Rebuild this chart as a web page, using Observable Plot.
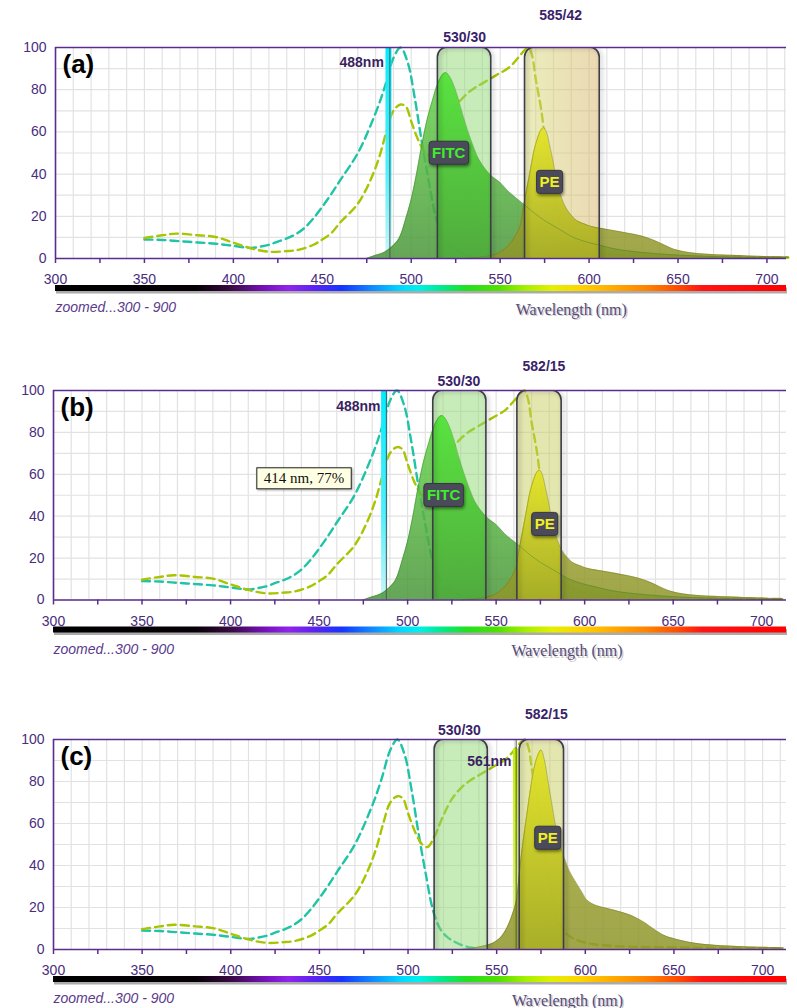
<!DOCTYPE html>
<html><head><meta charset="utf-8">
<script src="https://cdn.jsdelivr.net/npm/d3@7"></script>
<script src="https://cdn.jsdelivr.net/npm/@observablehq/plot@0.6"></script>
<style>
html,body{margin:0;padding:0;background:#fff;}
#chart{width:797px;}
#chart svg{display:block;}
</style></head><body>
<svg width="0" height="0" style="position:absolute">
<defs>
  <linearGradient id="spectrum" gradientUnits="userSpaceOnUse" x1="54" x2="786" y1="0" y2="0"></linearGradient>
  <linearGradient id="fitcGrad" x1="0" x2="0" y1="0" y2="1"><stop offset="0" stop-color="#66d64a"/><stop offset="1" stop-color="#4a963a"/></linearGradient>
  <linearGradient id="fitcBright" x1="0" x2="0" y1="0" y2="1"><stop offset="0" stop-color="#4ee634"/><stop offset="1" stop-color="#46a634"/></linearGradient>
  <linearGradient id="peGrad" x1="0" x2="0" y1="0" y2="1"><stop offset="0" stop-color="#aaac34"/><stop offset="1" stop-color="#8e962a"/></linearGradient>
  <linearGradient id="peBright" x1="0" x2="0" y1="0" y2="1"><stop offset="0" stop-color="#ecec22"/><stop offset="1" stop-color="#a6ac1e"/></linearGradient>
  <linearGradient id="laserCyan" x1="0" x2="0" y1="0" y2="1"><stop offset="0" stop-color="#00ecff"/><stop offset="0.6" stop-color="#50f0fc"/><stop offset="1" stop-color="#cdf6f8"/></linearGradient>
  <linearGradient id="laserYellow" x1="0" x2="0" y1="0" y2="1"><stop offset="0" stop-color="#c4f000"/><stop offset="1" stop-color="#e2f890"/></linearGradient>
  <linearGradient id="tanBand" x1="0" x2="1" y1="0" y2="0"><stop offset="0" stop-color="#d6da78"/><stop offset="1" stop-color="#d8b468"/></linearGradient>
</defs></svg>
<div id="chart"></div>
<script>
// ---------- data ----------
const fitcExWl  = [350,360,370,380,390,400,410,415,420,425,430,435,440,445,450,455,460,470,480,485,490,494,498,502,506,510,514,518,522,526,530,535,540];
const fitcExVal = [9,8.8,8.2,7.6,7,6,5,5.6,6.5,8,9.5,11.5,14.5,19,24.5,30.5,37,50,69,81,95,100,93,76,55,36,19,10,6,3.8,2.2,1,0.3];

const peExWl  = [350,360,368,380,390,400,410,420,430,437,445,450,455,460,470,477,482,486,490,494,497,500,504,508,511,515,520,525,530,535,540,548,555,560,564,566,568,570,573,576,579,582,585,590,597,605,620,650,712];
const peExVal = [9.7,11,11.8,11,10.2,7.5,4.8,3.2,3.5,4.2,6.5,9,12,17,26,37,48,60,70,73,72,65,56,50,48.8,54,64,72,77,80.5,83,87,90.5,95,99,100,96,85,71,51,35,23,13,7,4,2.5,1.5,1,0.5];

const fitcEmWl  = [475,480,485,488,492,494,497,500,503,506,509,512,515,518,519.5,521,523,526,529,532,535,538,542,546,550,555,560,565,570,575,580,585,590,595,600,606,615,625,635,650,670,690,712];
const fitcEmVal = [0,1.5,3,4.7,8,11,19,28,40,54,66,75,83,87.5,88,87,84,77,68,60,53,47,42,38.5,36,31.5,28,24.5,21,18,15.5,13,10.5,8.8,7.5,6.3,4.5,3.3,2.5,1.6,0.9,0.5,0.3];

const peEmWl  = [530,540,545,550,555,558,561,563,565,567,569,571,573,574.5,576,578,580,582,584,587,590,593,597,602,610,618,625,630,636,642,648,655,662,680,700,712];
const peEmVal = [0,0.8,1.5,3,6.5,10,15,24,33,42,51,57,61,62,60,53,45,36,30,24,20.5,18,16.5,15,13.8,12.6,11.5,10.5,8.8,6.5,4.3,3,2.3,1.5,0.9,0.7];

const peEmCWl  = [530,540,547,552,556,559,561,563,565,567,569,571,573,575,577,579,581,583,585,588,591,594,598,601,606,613,620,628,634,639,645,654,663,673,690,712];
const peEmCVal = [0,1.2,2.7,5.5,10.6,17,23,38,52,64,76,86,92,95,90,80,70,60,52,44,37.5,33,27.5,23.5,21,19.4,17.8,15.4,12.5,9.5,6.5,4.3,2.8,2,1.3,0.8];

const panelIds    = ["a","b","c"];
const panelTitles = ["(a)","(b)","(c)"];
const panelXMax   = [711, 714, 713.5];

const bandPanel   = ["a","a","b","b","c","c"];
const bandName    = ["530/30","585/42","530/30","582/15","530/30","582/15"];
const bandLo      = [515, 564, 514.5, 562, 515, 563];
const bandHi      = [545, 606, 544.5, 587, 545, 588];
const bandLabelNm = [530, 584, 529, 577, 529, 578];
const bandLabelY  = [104.5, 115, 104.5, 111.5, 104.3, 111.9];
const bandStyle   = ["green","tan","green","yellow","green","yellow"];
const bandOwner   = ["fitc","pe","fitc","pe","fitc","pe"];

const laserPanel   = ["a","b","c"];
const laserName    = ["488nm","488nm","561nm"];
const laserNm      = [488, 488, 561];
const laserLo      = [485.8, 485.3, 559.5];
const laserHi      = [489.2, 488.8, 562.5];
const laserTop     = [100, 100, 95.5];
const laserLabelNm = [484.6, 484.7, 558.4];
const laserLabelY  = [92.8, 92.5, 89.5];
const laserKind    = ["cyan","cyan","yellow"];

const tagPanel = ["a","a","b","b","c"];
const tagText  = ["FITC","PE","FITC","PE","PE"];
const tagNm    = [521.1, 577.8, 520.3, 577.4, 578.8];
const tagY     = [49.8, 36, 49.8, 36, 52.9];

const notePanel = "b";
const noteText = "414 nm, 77%";
const noteNm = 441.5;
const noteY = 58;

const xTicksMinor = d3.range(300, 701, 25);
const xTickLabels = d3.range(300, 701, 50);
const yTickLabels = [0, 20, 40, 60, 80, 100];
const gridXVals = d3.range(300, 711, 10);
const gridYVals = d3.range(0, 101, 10);
const rangeNote = "zoomed...300 - 900";
const axisTitle = "Wavelength (nm)";
const axisTitleNm = 590;

const spectrumNm = [300,380,400,418,432,447,462,478,495,505,518,532,550,566,580,596,615,635,650,665,712];
const spectrumColor = ["#000000","#060006","#3a0a44","#7410b8","#9024ec","#5a22f2","#1634ff","#1284ff","#00d8ff","#00f0ee","#00ea8e","#22e020","#52e000","#a8f000","#e2f000","#ffd400","#ffaa00","#ff7f00","#ff5000","#ff1414","#ff0000"];

// ---------- layout (pixels) ----------
const panelMarginLeft = [55, 53, 53];
const panelHeight     = [343, 349, 316];
const panelPlotHeight = [211, 209.5, 210];
const marginTop = 47, marginRight = 11, W = 797;

const purple = "#5b2c8f";
const labelPurple = "#4a2d7e";
const teal = "#1fc3a6";
const ygreen = "#a9c400";
const curve = "catmull-rom";
const bandFill = {green: "#8fd873", tan: "url(#tanBand)", yellow: "#c9cd5f"};
const bandStroke = "#3d3d48";

// spectrum gradient stops
const specGrad = d3.select("#spectrum");
spectrumNm.forEach((nm, i) => specGrad.append("stop").attr("offset", (nm - 300) / 412).attr("stop-color", spectrumColor[i]));

const series = (ws, vs) => ws.map((w, i) => ({wl: w, v: vs[i]}));
const fitcExData = series(fitcExWl, fitcExVal);
const peExData = series(peExWl, peExVal);
const fitcEmData = series(fitcEmWl, fitcEmVal);
const peEmABData = series(peEmWl, peEmVal);
const peEmCData = series(peEmCWl, peEmCVal);

const bandsAll = bandName.map((n, i) => ({panel: bandPanel[i], name: n, lo: bandLo[i], hi: bandHi[i], labelNm: bandLabelNm[i], labelY: bandLabelY[i], style: bandStyle[i], owner: bandOwner[i]}));
const lasersAll = laserName.map((n, i) => ({panel: laserPanel[i], name: n, nm: laserNm[i], lo: laserLo[i], hi: laserHi[i], top: laserTop[i], labelNm: laserLabelNm[i], labelY: laserLabelY[i], kind: laserKind[i]}));
const tagsAll = tagText.map((t, i) => ({panel: tagPanel[i], text: t, nm: tagNm[i], y: tagY[i]}));

const container = document.getElementById("chart");

function makePanel(pi) {
  const id = panelIds[pi];
  const xMax = panelXMax[pi];
  const mL = panelMarginLeft[pi];
  const H = panelHeight[pi];
  const PH = panelPlotHeight[pi];
  const mB = H - marginTop - PH;
  const bands = bandsAll.filter(b => b.panel === id);
  const lasers = lasersAll.filter(l => l.panel === id);
  const tags = tagsAll.filter(t => t.panel === id);
  const peEm = id === "c" ? peEmCData : peEmABData;
  const hasFitc = id !== "c";
  const laserFill = lasers[0].kind === "cyan" ? "url(#laserCyan)" : "url(#laserYellow)";
  const sans = '"Liberation Sans", Arial, sans-serif';
  const serif = '"Liberation Serif", "Times New Roman", serif';

  const marks = [
    Plot.gridX(gridXVals.filter(v => v <= xMax), {stroke: "#e2e2e2", strokeOpacity: 1, strokeWidth: 1.2}),
    Plot.gridY(gridYVals, {stroke: "#e2e2e2", strokeOpacity: 1, strokeWidth: 1.2}),
    Plot.line(fitcExData, {x: "wl", y: "v", stroke: teal, strokeWidth: 2.4, strokeDasharray: "8,5", curve}),
    Plot.line(peExData, {x: "wl", y: "v", stroke: ygreen, strokeWidth: 2.4, strokeDasharray: "8,5", curve}),
    Plot.rect(lasers, {x1: "lo", x2: "hi", y1: 0, y2: "top", fill: laserFill}),
    hasFitc ? Plot.areaY(fitcEmData, {x: "wl", y: "v", fill: "url(#fitcGrad)", fillOpacity: 0.85, curve}) : null,
    Plot.areaY(peEm, {x: "wl", y: "v", fill: "url(#peGrad)", fillOpacity: 0.85, curve}),
    ...bands.map(b => Plot.rect([b], {x1: "lo", x2: "hi", y1: -8, y2: 100, rx: 10, fill: bandFill[b.style], fillOpacity: 0.5, clip: true})),
    hasFitc ? Plot.areaY(fitcEmData, {x: "wl", y: "v", fill: "url(#fitcBright)", fillOpacity: 0.8, curve}) : null,
    Plot.areaY(peEm, {x: "wl", y: "v", fill: "url(#peBright)", fillOpacity: 0.8, curve}),
    hasFitc ? Plot.line(fitcEmData, {x: "wl", y: "v", stroke: "#3d7f2e", strokeOpacity: 0.5, strokeWidth: 0.8, curve}) : null,
    Plot.line(peEm, {x: "wl", y: "v", stroke: "#6f7018", strokeOpacity: 0.5, strokeWidth: 0.8, curve}),
    Plot.rect(bands, {x1: "lo", x2: "hi", y1: -8, y2: 100, rx: 10, fill: "none", stroke: bandStroke, strokeWidth: 1.6, clip: true}),
    Plot.ruleX(lasers, {x: "nm", y1: 0, y2: 100, stroke: "#555", strokeWidth: 1}),
    Plot.text(lasers, {x: "labelNm", y: "labelY", text: "name", textAnchor: "end", fontWeight: "bold", fontSize: 14, fill: "#3a1f62", fontFamily: sans}),
    Plot.text(bands, {x: "labelNm", y: "labelY", text: "name", fontWeight: "bold", fontSize: 14, fill: "#3a1f6a", fontFamily: sans}),
    Plot.text(tags, {x: "nm", y: "y", text: "text", fontWeight: "bold", fontSize: 15, fill: d => d.text === "FITC" ? "#3fee2a" : "#f0f020", fontFamily: sans}),
    id === notePanel ? Plot.text([{t: noteText, x: noteNm, y: noteY}], {x: "x", y: "y", text: "t", fontSize: 15, fill: "#111", fontFamily: serif}) : null,
    Plot.ruleY([0, 100], {stroke: purple, strokeWidth: 1.6}),
    Plot.ruleX([300], {y1: 0, y2: 100, stroke: purple, strokeWidth: 1.6}),
    Plot.axisX(xTicksMinor, {tickSize: 5, tickFormat: () => "", stroke: purple, strokeWidth: 1.5, label: null}),
    Plot.axisX(xTickLabels, {tickSize: 0, tickPadding: 16, fontSize: 14, fill: labelPurple, label: null, fontFamily: sans}),
    Plot.axisY(yTickLabels, {tickSize: 0, tickPadding: 9, fontSize: 14, fill: labelPurple, label: null, fontFamily: sans}),
    Plot.ruleY([0], {dy: 32, dx: 1, stroke: "#444", strokeOpacity: 0.45, strokeWidth: 6}),
    Plot.ruleY([0], {dy: 29.5, stroke: "url(#spectrum)", strokeWidth: 6}),
    Plot.text([panelTitles[pi]], {text: d => d, frameAnchor: "top-left", dx: 7, dy: 7, textAnchor: "start", lineAnchor: "top", fontSize: 26, fontWeight: "bold", fill: "#000", fontFamily: sans}),
    Plot.text([rangeNote], {text: d => d, frameAnchor: "bottom-left", dy: 53.5, textAnchor: "start", fontStyle: "italic", fontSize: 14, fill: "#5a3a8c", fontFamily: sans}),
    Plot.text([{t: axisTitle, x: axisTitleNm}], {x: "x", text: "t", frameAnchor: "bottom", dy: 57.5, dx: 1.5, fontSize: 16, fill: "#999", fillOpacity: 0.5, fontFamily: serif}),
    Plot.text([{t: axisTitle, x: axisTitleNm}], {x: "x", text: "t", frameAnchor: "bottom", dy: 56, fontSize: 16, fill: "#574a78", fontFamily: serif})
  ].filter(Boolean);

  const svg = Plot.plot({
    width: W, height: H,
    marginLeft: mL, marginRight: marginRight, marginTop: marginTop, marginBottom: mB,
    x: {domain: [300, xMax], axis: null},
    y: {domain: [0, 100], axis: null},
    style: {fontFamily: '"Liberation Sans", Arial, sans-serif', background: "transparent", overflow: "visible"},
    marks
  });
  container.appendChild(svg);

  // clip the "collected" bright emission to its filter band
  const sx = svg.scale("x");
  const defs = d3.select(svg).insert("defs", ":first-child");
  bands.forEach((b, i) => {
    const cid = `bandclip-${id}-${i}`;
    defs.append("clipPath").attr("id", cid).append("rect")
      .attr("x", sx.apply(b.lo)).attr("width", sx.apply(b.hi) - sx.apply(b.lo))
      .attr("y", marginTop - 2).attr("height", PH + 4);
    const fillUrl = b.owner === "fitc" ? "url(#fitcBright)" : "url(#peBright)";
    svg.querySelectorAll(`[fill="${fillUrl}"]`).forEach(el => el.setAttribute("clip-path", `url(#${cid})`));
  });
  // soft shadow on the filter band outlines
  svg.querySelectorAll(`[stroke="${bandStroke}"]`).forEach(el => el.setAttribute("style", "filter: drop-shadow(2px 1px 2px rgba(0,0,0,0.3))"));

  // label boxes
  const NS = "http://www.w3.org/2000/svg";
  function boxText(t, padX, padY, fill, stroke, rx, shadow) {
    const bb = t.getBBox();
    const r = document.createElementNS(NS, "rect");
    r.setAttribute("x", bb.x - padX);
    r.setAttribute("y", bb.y - padY);
    r.setAttribute("width", bb.width + 2 * padX);
    r.setAttribute("height", bb.height + 2 * padY);
    r.setAttribute("rx", rx);
    r.setAttribute("fill", fill);
    r.setAttribute("stroke", stroke);
    r.setAttribute("stroke-width", 1);
    if (t.getAttribute("transform")) r.setAttribute("transform", t.getAttribute("transform"));
    if (shadow) r.setAttribute("style", shadow);
    t.parentNode.insertBefore(r, t);
  }
  svg.querySelectorAll("text").forEach(t => {
    const s = t.textContent;
    if (s === "FITC" || s === "PE") boxText(t, 3, 3, "#4a4a5a", "#363644", 3, "filter: drop-shadow(1.5px 2px 1.5px rgba(0,0,0,0.45))");
    else if (s === noteText) boxText(t, 7, 2.5, "#ffffe4", "#222", 0, "filter: drop-shadow(1.5px 1.5px 1px rgba(0,0,0,0.35))");
  });
}

panelIds.forEach((_, i) => makePanel(i));
</script>
</body></html>
